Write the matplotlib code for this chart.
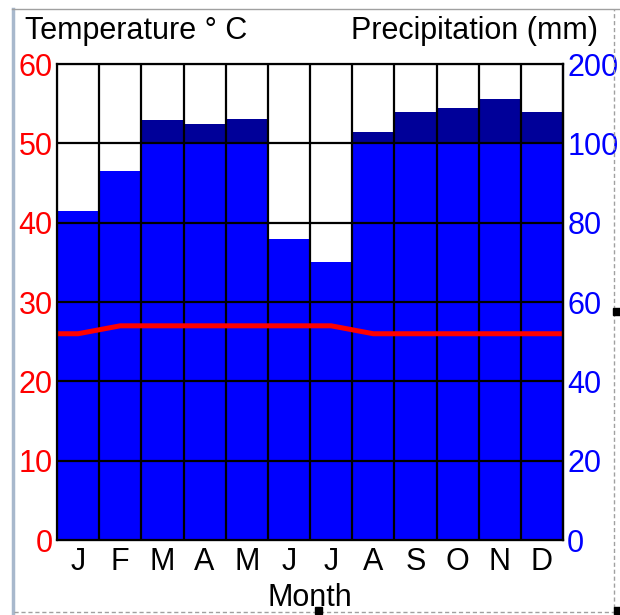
import numpy as np
import matplotlib
matplotlib.use("Agg")
import matplotlib.pyplot as plt
from matplotlib.lines import Line2D
from matplotlib.patches import Rectangle

plt.rcParams['font.family'] = ['Liberation Sans', 'DejaVu Sans']

# datos del climograma
meses = ['J', 'F', 'M', 'A', 'M', 'J', 'J', 'A', 'S', 'O', 'N', 'D']
precip_mm = [83, 93, 129, 124, 131, 76, 70, 114, 139, 144, 156, 139]
temp_c = [26, 27, 27, 27, 27, 27, 27, 26, 26, 26, 26, 26]
temp_ticks = [0, 10, 20, 30, 40, 50, 60]
precip_ticks = ['0', '20', '40', '60', '80', '100', '200']

W, H = 620, 615
FS = 22


def precip_a_temp(p):
    # 0-100 mm -> 0-50 C (escala 2:1), por encima de 100 mm escala comprimida 10x
    p = np.asarray(p, dtype=float)
    return np.where(p <= 100, p / 2.0, 50 + (p - 100) / 10.0)


fig = plt.figure(figsize=(W / 100, H / 100), dpi=100)
ax = fig.add_axes([57 / W, 1 - 540 / H, 506 / W, 476 / H])

x = np.arange(len(meses))
p_bajo = np.minimum(precip_mm, 100)
p_alto = precip_a_temp(precip_mm)

ax.bar(x, precip_a_temp(p_bajo), width=1.0, align='edge', color='#0000ff', zorder=1)
ax.bar(x, p_alto - 50, bottom=50, width=1.0, align='edge', color='#000099',
       zorder=1)
# solo las barras con mas de 100 mm tienen parte oscura
for i, p in enumerate(precip_mm):
    if p <= 100:
        ax.patches[len(meses) + i].set_visible(False)

# linea de temperatura, interpolada entre centros de meses
xt = np.concatenate([[0], x + 0.5, [len(meses)]])
yt = np.concatenate([[temp_c[0]], temp_c, [temp_c[-1]]])
ax.plot(xt, yt, color='#ff0000', lw=3.6, zorder=4, solid_capstyle='butt')

ax.set_xlim(0, 12)
ax.set_ylim(0, 60)
ax.set_yticks(temp_ticks)
ax.set_yticklabels([str(t) for t in temp_ticks], color='#ff0000', fontsize=FS)
ax.set_xticks(x + 0.5)
ax.set_xticklabels(meses, fontsize=FS)
ax.tick_params(axis='y', length=0, pad=3)
ax.tick_params(axis='x', length=0, pad=5)

for v in range(1, 12):
    ax.axvline(v, color='black', lw=1.6, zorder=3)
for t in temp_ticks[1:-1]:
    ax.axhline(t, color='black', lw=1.6, zorder=3)
for s in ax.spines.values():
    s.set_linewidth(1.6)
    s.set_zorder(5)

ax2 = ax.twinx()
ax2.set_ylim(0, 60)
ax2.set_yticks(temp_ticks)
ax2.set_yticklabels(precip_ticks, color='#0000ff', fontsize=FS)
ax2.tick_params(axis='y', length=0, pad=3)
ax2.spines['right'].set_linewidth(1.6)

ax.set_xlabel('Month', fontsize=FS, labelpad=4)

fig.text(25 / W, 1 - 31 / H, 'Temperature ° C', fontsize=FS, ha='left', va='center')
fig.text(598 / W, 1 - 31 / H, 'Precipitation (mm)', fontsize=FS, ha='right', va='center')

# marco de la captura
fig.add_artist(Line2D([12.5 / W, 12.5 / W], [0, 1 - 9 / H], transform=fig.transFigure,
                      color='#a8b8cc', lw=2.5))
fig.add_artist(Line2D([12 / W, 1], [1 - 9 / H, 1 - 9 / H], transform=fig.transFigure,
                      color='#a0a0a0', lw=1))
fig.add_artist(Line2D([614 / W, 614 / W], [0, 1 - 9 / H], transform=fig.transFigure,
                      color='#a0a0a0', lw=1, ls=(0, (3, 2))))
fig.add_artist(Line2D([14 / W, 1], [3 / H, 3 / H], transform=fig.transFigure,
                      color='#a0a0a0', lw=1, ls=(0, (3, 2))))
for hx, hy in [(616, 312), (318, 611), (617, 611)]:
    fig.add_artist(Rectangle(((hx - 3) / W, 1 - (hy + 3) / H), 7 / W, 7 / H,
                             transform=fig.transFigure, color='black', zorder=10))

fig.savefig('out.png', dpi=100)
